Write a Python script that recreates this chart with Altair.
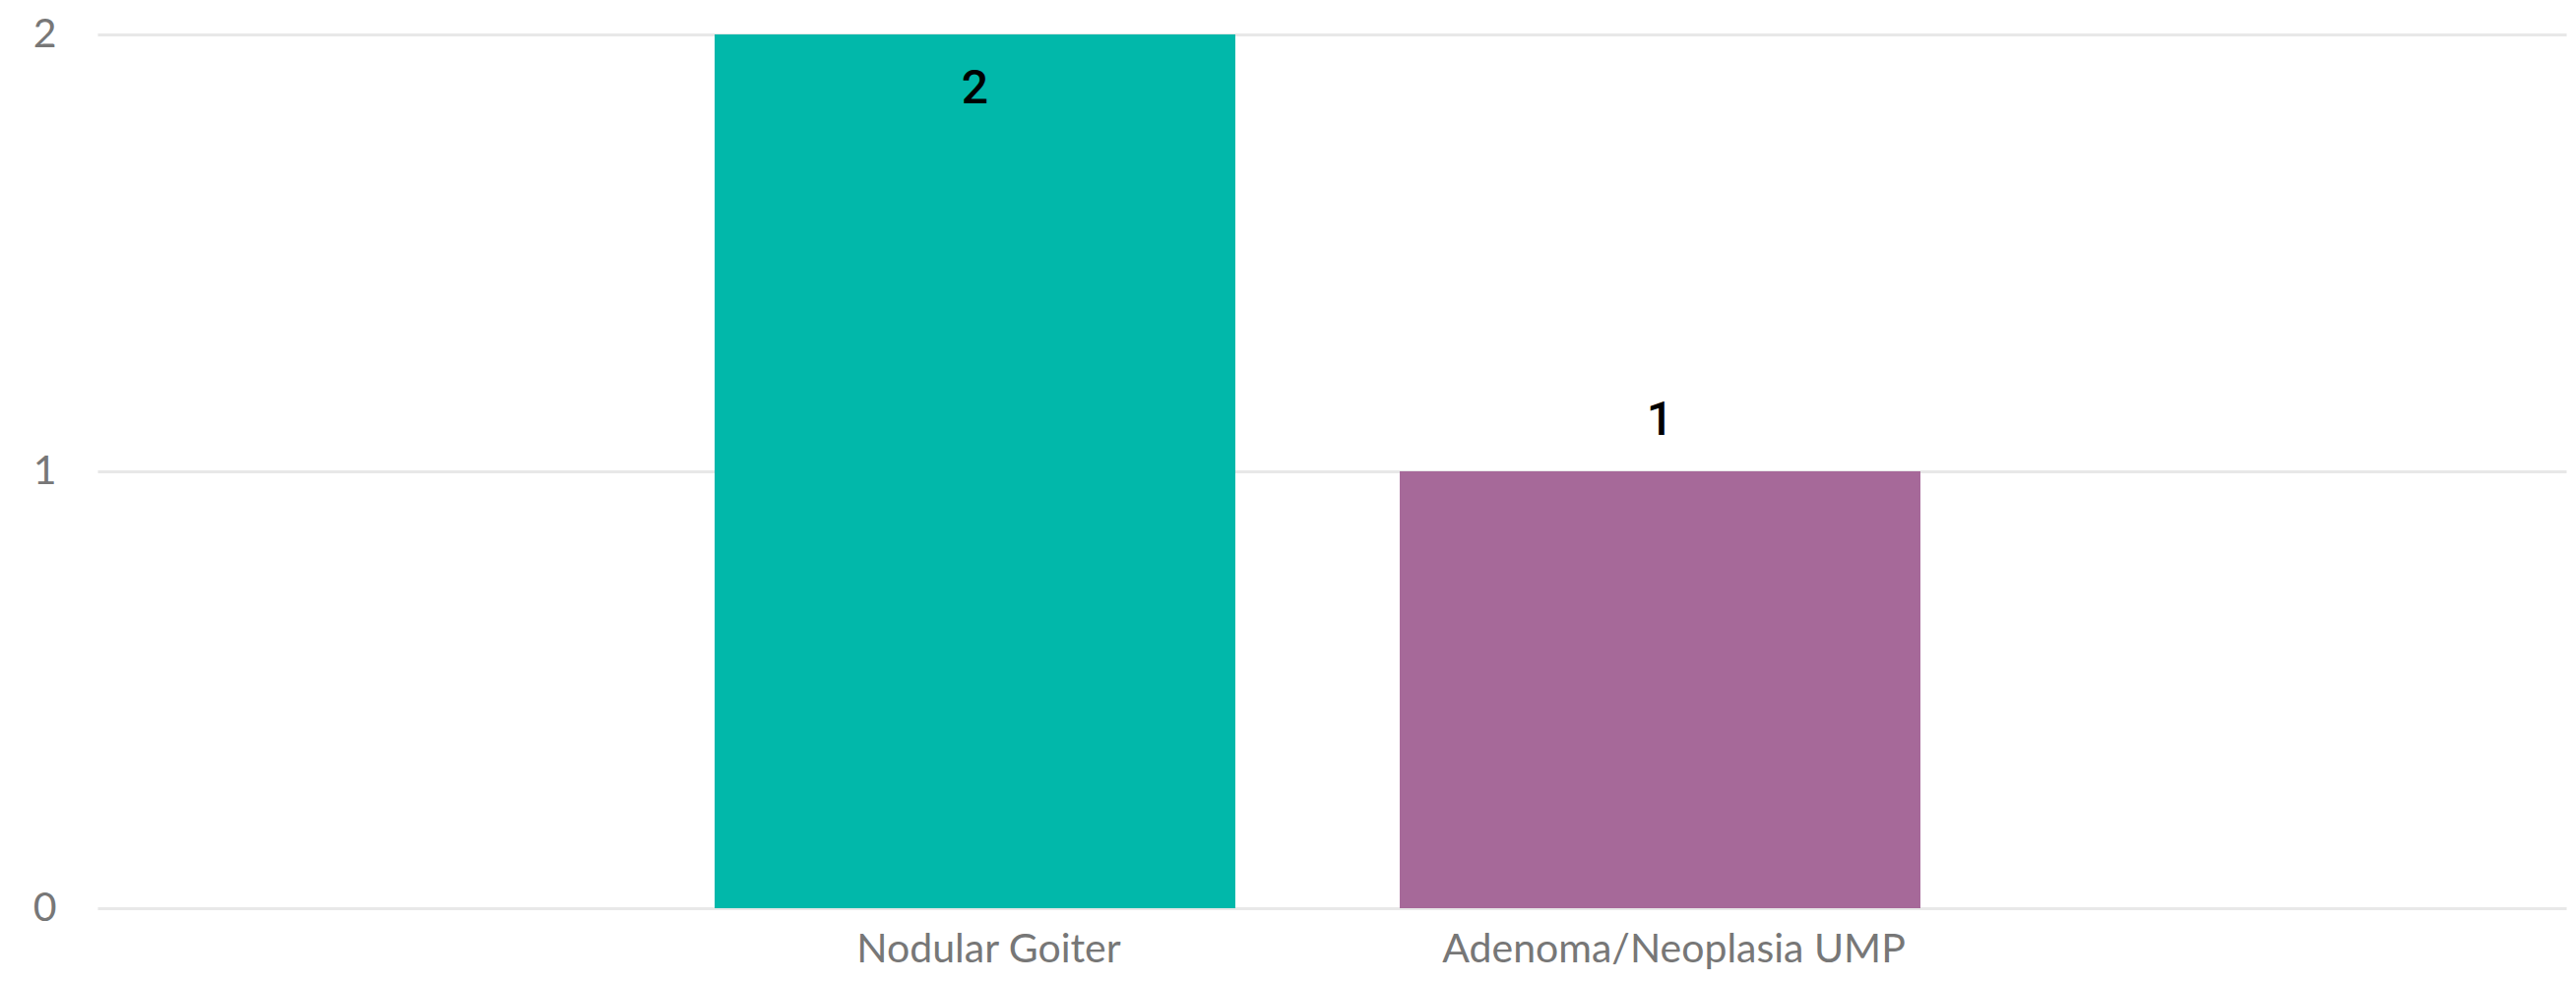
import altair as alt
import pandas as pd

categories = ["Nodular Goiter", "Adenoma/Neoplasia UMP"]
values = [2, 1]
colors = ["#01B8AA", "#A66999"]

df = pd.DataFrame({"category": categories, "value": values})

x_enc = alt.X(
    "category:N",
    sort=categories,
    title=None,
    scale=alt.Scale(paddingInner=0.24, paddingOuter=0.9217, align=0.4887),
    axis=alt.Axis(
        labelAngle=0,
        labelFont="Lato",
        labelFontSize=41,
        labelColor="#777777",
        labelPadding=22,
        labelOffset=14,
        labelLimit=0,
        ticks=False,
        domain=False,
        grid=False,
    ),
)

y_enc = alt.Y(
    "value:Q",
    title=None,
    scale=alt.Scale(domain=[0, 2], nice=False),
    axis=alt.Axis(
        tickCount=2,
        labelFont="Lato",
        labelFontSize=41,
        labelColor="#777777",
        labelPadding=42,
        labelOverlap=False,
        ticks=False,
        domain=False,
        gridColor="#E8E8E8",
        gridWidth=3,
    ),
)

base = alt.Chart(df)

bars = base.mark_bar().encode(
    x=x_enc,
    y=y_enc,
    color=alt.Color("category:N", scale=alt.Scale(domain=categories, range=colors), legend=None),
)

inside = base.transform_filter("datum.value >= 2").mark_text(
    font="Roboto", fontSize=48, fontWeight=500, color="black", baseline="middle", dy=56
).encode(x=x_enc, y=y_enc, text="value:Q")

outside = base.transform_filter("datum.value < 2").mark_text(
    font="Roboto", fontSize=48, fontWeight=500, color="black", baseline="middle", dy=-51
).encode(x=x_enc, y=y_enc, text="value:Q")

chart = (
    alt.layer(bars, inside, outside)
    .properties(
        width=2508,
        height=888,
        autosize=alt.AutoSizeParams(type="none"),
        padding={"left": 91, "top": 27, "right": 2, "bottom": 67},
    )
    .configure_view(stroke=None)
)

chart.save("out.html", embed_options={"renderer": "svg", "actions": False})
